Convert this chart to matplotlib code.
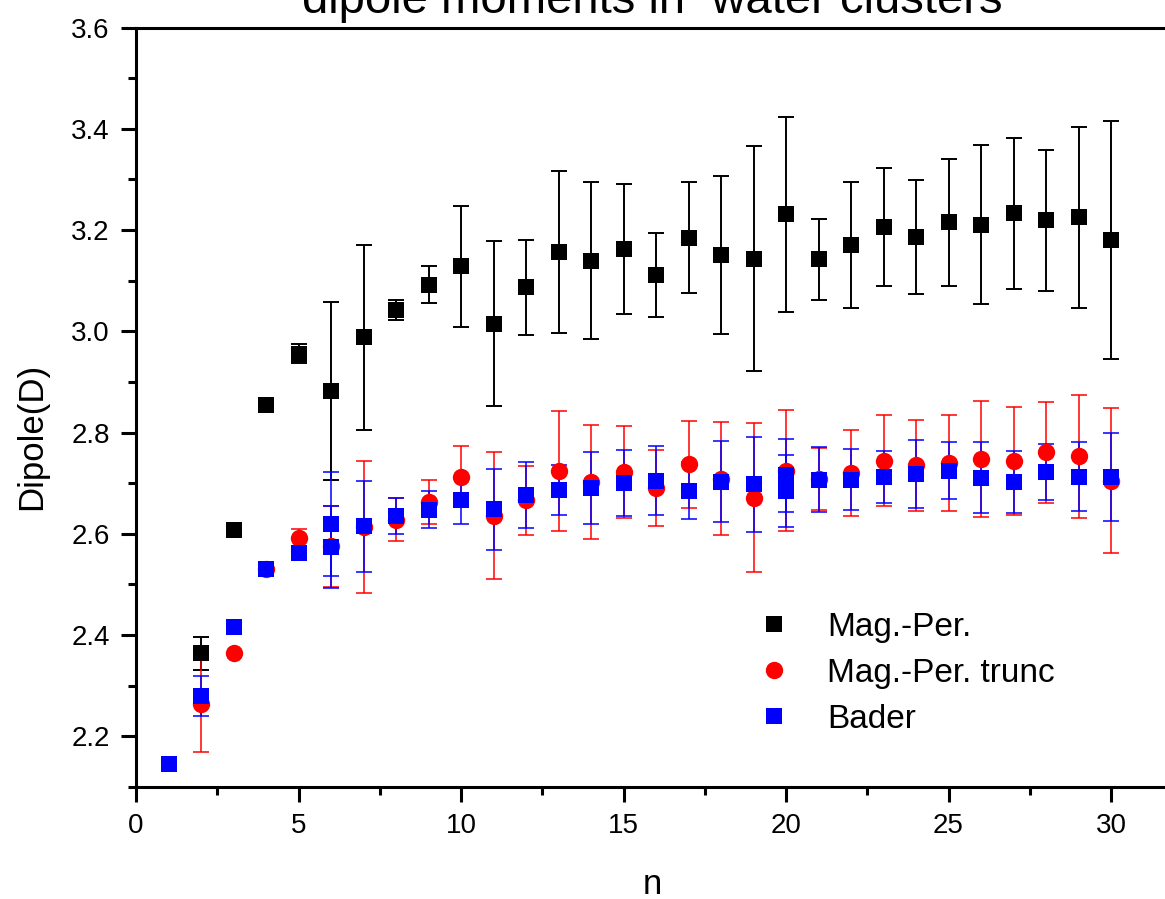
import numpy as np
import matplotlib
matplotlib.use('Agg')
import matplotlib.pyplot as plt
from matplotlib.lines import Line2D
from matplotlib.ticker import MultipleLocator

plt.rcParams['font.family'] = ['Liberation Sans', 'DejaVu Sans']

nan = np.nan

# cluster size n
n_mp = np.arange(2, 31)
# Mag.-Per. dipole (D) and spread
mp = [2.364, 2.607, 2.855, 2.956, 2.882, 2.988, 3.042, 3.092, 3.128, 3.015,
      3.087, 3.156, 3.139, 3.162, 3.112, 3.185, 3.150, 3.143, 3.231, 3.142,
      3.170, 3.206, 3.186, 3.215, 3.210, 3.233, 3.219, 3.225, 3.181]
mp_err = [0.033, nan, nan, 0.018, 0.176, 0.183, 0.020, 0.037, 0.120, 0.163,
          0.094, 0.160, 0.155, 0.128, 0.083, 0.110, 0.156, 0.222, 0.193, 0.080,
          0.124, 0.116, 0.113, 0.125, 0.157, 0.149, 0.139, 0.179, 0.235]

# Mag.-Per. truncated
n_mpt = np.arange(2, 31)
mpt = [2.264, 2.365, 2.530, 2.592, 2.575, 2.613, 2.628, 2.663, 2.713, 2.636,
       2.666, 2.724, 2.702, 2.722, 2.691, 2.737, 2.709, 2.671, 2.725, 2.709,
       2.720, 2.744, 2.735, 2.740, 2.748, 2.744, 2.761, 2.753, 2.705]
mpt_err = [0.095, nan, nan, 0.017, 0.080, 0.130, 0.042, 0.043, 0.060, 0.125,
           0.068, 0.118, 0.112, 0.090, 0.075, 0.085, 0.112, 0.147, 0.120, 0.061,
           0.085, 0.090, 0.089, 0.095, 0.114, 0.107, 0.100, 0.122, 0.143]

# Bader (two structures at n=6 and n=20)
n_bader = [1, 2, 3, 4, 5, 6, 6, 7, 8, 9, 10, 11, 12, 13, 14, 15, 16, 17, 18,
           19, 20, 20, 21, 22, 23, 24, 25, 26, 27, 28, 29, 30]
bader = [2.146, 2.280, 2.416, 2.530, 2.562, 2.620, 2.574, 2.615, 2.635, 2.648,
         2.666, 2.649, 2.677, 2.687, 2.690, 2.700, 2.705, 2.685, 2.703, 2.698,
         2.716, 2.684, 2.707, 2.707, 2.712, 2.719, 2.725, 2.711, 2.703, 2.722,
         2.713, 2.713]
bader_err = [nan, 0.040, nan, nan, nan, 0.103, 0.080, 0.090, 0.035, 0.036,
             0.046, 0.080, 0.065, 0.049, 0.071, 0.065, 0.068, 0.056, 0.080, 0.094,
             0.072, 0.071, 0.064, 0.060, 0.051, 0.067, 0.056, 0.070, 0.061, 0.055,
             0.068, 0.087]

series = [
    (n_mp, mp, mp_err, 'black', 's', 11.0, 1.4, 'Mag.-Per.'),
    (n_mpt, mpt, mpt_err, 'red', 'o', 12.5, 1.1, 'Mag.-Per. trunc'),
    (n_bader, bader, bader_err, 'blue', 's', 11.3, 1.1, 'Bader'),
]

W, H = 1165, 899
fig = plt.figure(figsize=(W / 100, H / 100), dpi=100)
ax = fig.add_axes([136 / W, 1 - 787 / H, 32 * 32.5 / W, (787 - 27.5) / H])

for x, y, e, c, m, ms, lw, lab in series:
    pts, caps, bars = ax.errorbar(x, y, yerr=e, fmt=m, color=c, ms=ms,
                                  ecolor=c, elinewidth=lw, capsize=5.8,
                                  capthick=lw)
    pts.set_markeredgewidth(0)

ax.set_xlim(0, 32)
ax.set_ylim(2.1, 3.6)
ax.xaxis.set_major_locator(MultipleLocator(5))
ax.xaxis.set_minor_locator(MultipleLocator(2.5))
ax.yaxis.set_major_locator(MultipleLocator(0.2))
ax.yaxis.set_minor_locator(MultipleLocator(0.1))
ax.yaxis.set_major_formatter(lambda v, p: f'{v:.1f}')
ax.tick_params(which='both', direction='out', width=2.2, labelsize=20,
               top=False, right=False)
ax.tick_params(which='major', length=10.8, pad=8)
ax.tick_params(which='minor', length=5.5)
for s in ['left', 'bottom', 'top']:
    ax.spines[s].set_linewidth(2.2)
ax.spines['right'].set_visible(False)

# axis titles placed in figure pixels
fig.text(652 / W, 1 - 884 / H, 'n', fontsize=25, ha='center', va='center')
fig.text(32 / W, 1 - 510 / H, 'Dipole(D)', fontsize=25, rotation=90,
         ha='center', va='bottom')

fig.text(652 / W, 1 - 13 / H, 'dipole moments in  water clusters',
         fontsize=34, ha='center', va='baseline')

handles = [Line2D([], [], ls='none', marker=m, color=c, ms=ms, mew=0)
           for x, y, e, c, m, ms, lw, lab in series]
labels = [s[-1] for s in series]
ax.legend(handles, labels, loc='upper left', frameon=False, fontsize=24,
          bbox_to_anchor=(757 / W, 1 - 612 / H), bbox_transform=fig.transFigure,
          borderpad=0, borderaxespad=0, handlelength=1.0, handletextpad=1.1,
          labelspacing=0.45)

fig.savefig('out.png', dpi=100)
